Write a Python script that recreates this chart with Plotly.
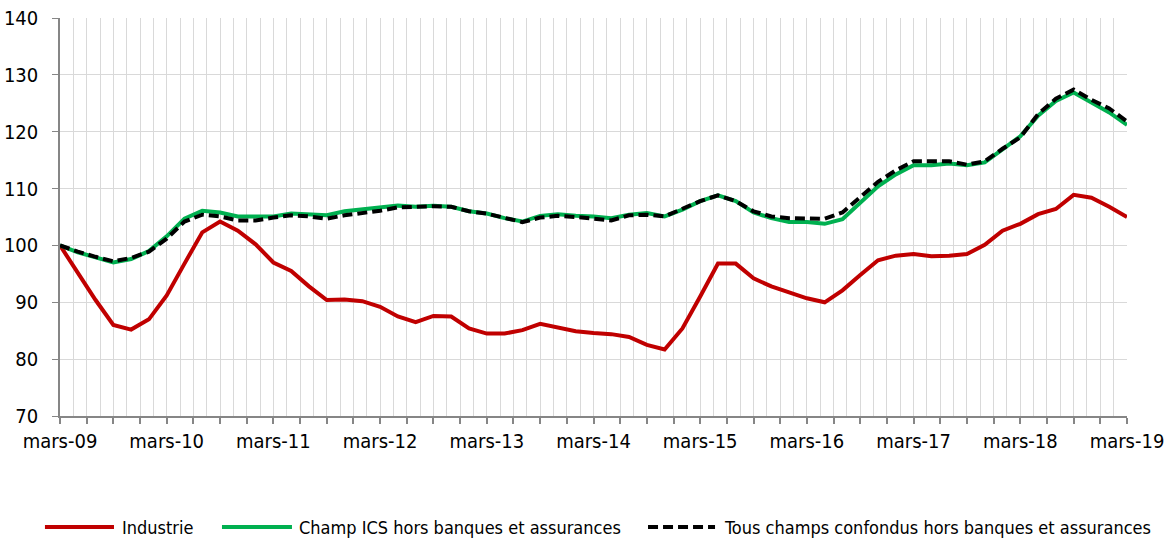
import plotly.graph_objects as go

# Bimonthly observations, expressed as months since March 2009
months = list(range(0, 121, 2))

industrie = [100.0, 95.1, 90.4, 86.0, 85.2, 87.0, 91.2, 96.8, 102.3, 104.2,
             102.6, 100.2, 97.0, 95.5, 92.8, 90.4, 90.5, 90.2, 89.2, 87.5,
             86.5, 87.6, 87.5, 85.4, 84.5, 84.5, 85.1, 86.2, 85.5, 84.9,
             84.6, 84.4, 83.9, 82.5, 81.7, 85.4, 91.0, 96.8, 96.8, 94.2,
             92.8, 91.7, 90.7, 90.0, 92.1, 94.8, 97.4, 98.2, 98.5, 98.1,
             98.2, 98.5, 100.1, 102.6, 103.8, 105.5, 106.4, 108.9, 108.4, 106.8,
             105.0]

champ_ics = [100.0, 98.8, 97.9, 97.0, 97.6, 99.0, 101.6, 104.7, 106.1, 105.8,
             105.1, 105.1, 105.1, 105.6, 105.4, 105.3, 106.0, 106.3, 106.6, 107.0,
             106.8, 107.0, 106.8, 106.0, 105.6, 104.8, 104.2, 105.2, 105.5, 105.2,
             105.1, 104.8, 105.4, 105.7, 105.1, 106.3, 107.8, 108.8, 107.8, 105.8,
             104.8, 104.1, 104.1, 103.8, 104.6, 107.5, 110.4, 112.5, 114.1, 114.1,
             114.4, 114.1, 114.6, 116.9, 119.2, 122.8, 125.4, 126.9, 125.1, 123.4,
             121.2]

tous_champs = [100.0, 98.9, 98.0, 97.2, 97.8, 98.9, 101.2, 104.2, 105.4, 105.1,
               104.4, 104.4, 104.9, 105.3, 105.1, 104.7, 105.3, 105.7, 106.1, 106.7,
               106.8, 106.9, 106.8, 106.0, 105.6, 104.8, 104.1, 104.9, 105.2, 105.0,
               104.7, 104.4, 105.3, 105.4, 105.1, 106.4, 107.8, 108.8, 107.8, 106.0,
               105.1, 104.8, 104.8, 104.7, 105.8, 108.4, 111.2, 113.2, 114.8, 114.8,
               114.8, 114.2, 114.8, 117.0, 119.0, 123.1, 125.8, 127.4, 125.6, 124.1,
               121.8]

year_labels = ["mars-09", "mars-10", "mars-11", "mars-12", "mars-13", "mars-14",
               "mars-15", "mars-16", "mars-17", "mars-18", "mars-19"]

series_names = ["Industrie",
                "Champ ICS hors banques et assurances",
                "Tous champs confondus hors banques et assurances"]
series_colors = ["#C00000", "#00B050", "#000000"]
series_dash = ["solid", "solid", "10px,5px"]
series_values = [industrie, champ_ics, tous_champs]

# quarterly tick marks, label every 4th
tick_vals = list(range(0, 121, 3))
tick_text = [year_labels[v // 12] if v % 12 == 0 else "" for v in tick_vals]

FONT = "DejaVu Sans Condensed, DejaVu Sans, sans-serif"

fig = go.Figure()
for name, vals, col, dash in zip(series_names, series_values, series_colors, series_dash):
    fig.add_trace(go.Scatter(x=months, y=vals, mode="lines", name=name,
                             line=dict(color=col, width=4, dash=dash),
                             showlegend=False))

# Legend drawn below the plot (swatch + label), in paper coordinates
legend_y = -0.279
legend_items = [(-0.0141, 0.0506, 0.0562), (0.1518, 0.2174, 0.2221), (0.5511, 0.6139, 0.6204)]
for (x0, x1, xt), name, col, dash in zip(legend_items, series_names, series_colors, series_dash):
    fig.add_shape(type="line", xref="paper", yref="paper", x0=x0, x1=x1,
                  y0=legend_y, y1=legend_y,
                  line=dict(color=col, width=4, dash=dash))
    fig.add_annotation(xref="paper", yref="paper", x=xt, y=legend_y, text=name,
                       showarrow=False, xanchor="left", yanchor="middle",
                       font=dict(family=FONT, size=18, color="#000000"))

grid = "#D9D9D9"
fig.update_layout(
    width=1173, height=541,
    margin=dict(l=60, r=46, t=18, b=125, autoexpand=False),
    paper_bgcolor="white", plot_bgcolor="white",
    font=dict(family=FONT, size=20, color="#000000"),
    showlegend=False,
    xaxis=dict(range=[0, 120], tickvals=tick_vals, ticktext=tick_text,
               showgrid=True, gridcolor=grid, gridwidth=1,
               minor=dict(dtick=1.5, tick0=0, showgrid=True, gridcolor=grid, gridwidth=1),
               ticks="outside", ticklen=6, tickcolor="#868686", tickwidth=1.5,
               showline=True, linecolor="#868686", linewidth=2,
               zeroline=False, tickfont=dict(size=20, family=FONT),
               automargin=False, fixedrange=True),
    yaxis=dict(range=[70, 140], dtick=10, tick0=70,
               showgrid=True, gridcolor=grid, gridwidth=1,
               ticks="outside", ticklen=6, tickcolor="#868686", tickwidth=1,
               showline=True, linecolor="#868686", linewidth=1.5,
               zeroline=False, tickfont=dict(size=20, family=FONT),
               ticklabelstandoff=10, automargin=False, fixedrange=True),
)

# remove the default page margin so the figure fills the window exactly
fig.write_html("out.html",
               config={"displayModeBar": False},
               post_script="document.body.style.margin='0';document.body.style.overflow='hidden';")
